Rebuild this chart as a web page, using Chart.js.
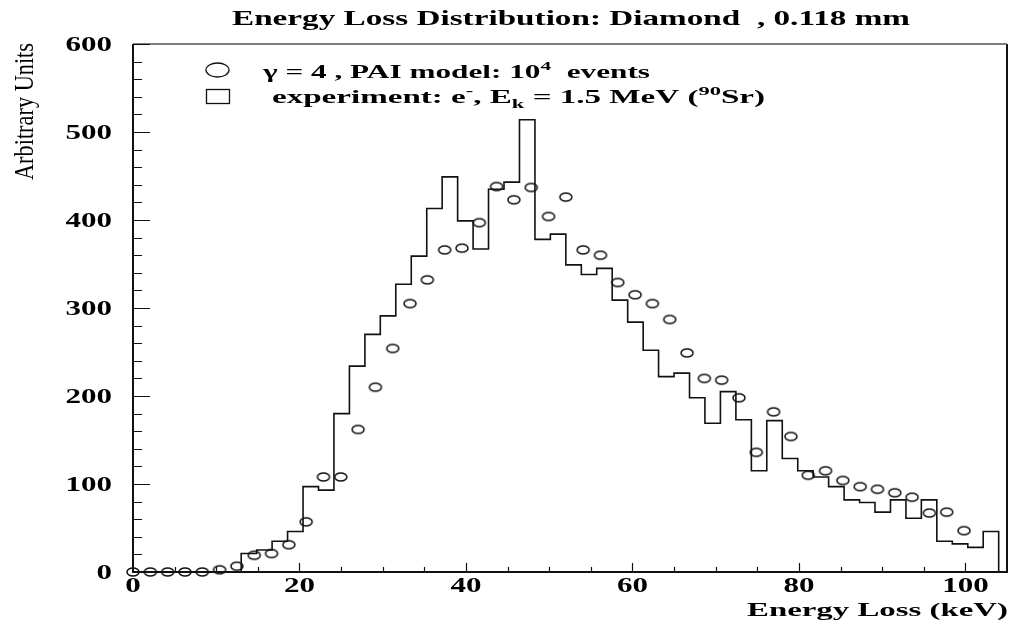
<!DOCTYPE html>
<html>
<head>
<meta charset="utf-8">
<script src="https://cdn.jsdelivr.net/npm/chart.js@4.4.0/dist/chart.umd.min.js"></script>
<style>
  html, body { margin: 0; padding: 0; background: #fff; }
  #wrap { width: 1013px; height: 625px; }
</style>
</head>
<body>
<div id="wrap"><canvas id="lossCanvas" width="1013" height="625"></canvas></div>
<script>
// experiment histogram: lower bin edges (keV), last entry = upper edge of last bin
const binEdges = [
  0, 1.86, 3.71, 5.57, 7.43, 9.29, 11.14, 13.0, 14.86, 16.71,
  18.57, 20.43, 22.29, 24.14, 26.0, 27.86, 29.71, 31.57, 33.43, 35.29,
  37.14, 39.0, 40.86, 42.71, 44.57, 46.43, 48.29, 50.14, 52.0, 53.86,
  55.71, 57.57, 59.43, 61.29, 63.14, 65.0, 66.86, 68.71, 70.57, 72.43,
  74.29, 76.14, 78.0, 79.86, 81.71, 83.57, 85.43, 87.29, 89.14, 91.0,
  92.86, 94.71, 96.57, 98.43, 100.29, 102.14, 104.0
];
// experiment counts per bin (e-, 1.5 MeV, 90Sr)
const expCounts = [
  0, 0, 0, 0, 0, 0, 0, 21, 25, 35,
  46, 97, 93, 180, 234, 270, 291, 327, 359, 413,
  449, 399, 367, 435, 443, 514, 378, 384, 349, 338,
  345, 309, 284, 252, 222, 226, 198, 169, 205, 173,
  115, 172, 129, 115, 108, 97, 82, 79, 68, 82,
  61, 82, 35, 32, 28, 46
];
// PAI model points (gamma = 4)
const simEnergy = [
  0, 2.08, 4.16, 6.24, 8.32, 10.4, 12.48, 14.56, 16.64, 18.72,
  20.8, 22.88, 24.96, 27.04, 29.12, 31.2, 33.28, 35.36, 37.44, 39.52,
  41.6, 43.68, 45.76, 47.84, 49.92, 52.0, 54.08, 56.16, 58.24, 60.32,
  62.4, 64.48, 66.56, 68.64, 70.72, 72.8, 74.88, 76.96, 79.04, 81.12,
  83.2, 85.28, 87.36, 89.44, 91.52, 93.6, 95.68, 97.76, 99.84
];
const simCounts = [
  0, 0, 0, 0, 0, 2.5, 6.6, 19, 21, 31,
  57, 108, 108, 162, 210, 254, 305, 332, 366, 368,
  397, 438, 423, 437, 404, 426, 366, 360, 329, 315,
  305, 287, 249, 220, 218, 198, 136, 182, 154, 110,
  115, 104, 97, 94, 90, 85, 67, 68, 47
];
const xTicks = [0, 20, 40, 60, 80, 100];
const yTicks = [0, 100, 200, 300, 400, 500, 600];

const SERIF = '"Liberation Serif", "Times New Roman", serif';
const INK = '#111';

// open oval marker (the picture is stretched sideways)
function makeOval(w, h) {
  const c = document.createElement('canvas');
  c.width = w + 4;
  c.height = h + 4;
  const g = c.getContext('2d');
  g.strokeStyle = INK;
  g.lineWidth = 1.5;
  g.beginPath();
  g.ellipse(c.width / 2, c.height / 2, w / 2, h / 2, 0, 0, Math.PI * 2);
  g.stroke();
  return c;
}

// draw text made of parts (plain / sup / sub), squeezed or stretched to a width
function richText(ctx, parts, left, baseline, size, weight, width) {
  ctx.save();
  let natural = 0;
  parts.forEach(p => {
    const s = p.s ? size * 0.68 : size;
    ctx.font = `${weight} ${s}px ${SERIF}`;
    p.w = ctx.measureText(p.t).width;
    natural += p.w;
  });
  ctx.translate(left, baseline);
  ctx.scale(width / natural, 1);
  let cx = 0;
  parts.forEach(p => {
    const s = p.s ? size * 0.68 : size;
    ctx.font = `${weight} ${s}px ${SERIF}`;
    const dy = p.s === 'sup' ? -size * 0.42 : p.s === 'sub' ? size * 0.28 : 0;
    ctx.fillText(p.t, cx, dy);
    cx += p.w;
  });
  ctx.restore();
}

// tick label with fixed sideways stretch
function tickLabel(ctx, text, x, baseline, align) {
  const sx = 1.55;
  ctx.save();
  ctx.font = `bold 20px ${SERIF}`;
  const w = ctx.measureText(text).width * sx;
  const left = align === 'right' ? x - w : x - w / 2;
  ctx.translate(left, baseline);
  ctx.scale(sx, 1);
  ctx.fillText(text, 0, 0);
  ctx.restore();
}

const frameAndText = {
  id: 'frameAndText',
  afterDatasetsDraw(chart) {
    const { ctx, chartArea: a, scales: { x, y } } = chart;
    ctx.save();
    ctx.fillStyle = '#000';
    ctx.textBaseline = 'alphabetic';

    // frame
    ctx.strokeStyle = INK;
    ctx.lineWidth = 2;
    ctx.beginPath();
    ctx.moveTo(a.left, a.top);
    ctx.lineTo(a.left, a.bottom);
    ctx.lineTo(a.right, a.bottom);
    ctx.lineTo(a.right, a.top);
    ctx.stroke();
    ctx.strokeStyle = '#555';
    ctx.lineWidth = 1.5;
    ctx.beginPath();
    ctx.moveTo(a.left, a.top);
    ctx.lineTo(a.right, a.top);
    ctx.stroke();

    // ticks, drawn inwards
    ctx.strokeStyle = INK;
    ctx.lineWidth = 1.2;
    ctx.beginPath();
    for (let v = 0; v <= 600; v += 20) {
      const py = Math.round(y.getPixelForValue(v)) + 0.5;
      const len = v % 100 === 0 ? 17 : 9;
      ctx.moveTo(a.left, py);
      ctx.lineTo(a.left + len, py);
    }
    for (let v = 5; v <= 104; v += 5) {
      const px = Math.round(x.getPixelForValue(v)) + 0.5;
      const len = v % 20 === 0 ? 9 : 5;
      ctx.moveTo(px, a.bottom);
      ctx.lineTo(px, a.bottom - len);
    }
    ctx.stroke();

    // tick labels
    yTicks.forEach(v => tickLabel(ctx, String(v), 112, y.getPixelForValue(v) + 7, 'right'));
    xTicks.forEach(v => tickLabel(ctx, String(v), x.getPixelForValue(v), 592, 'center'));

    // titles
    richText(ctx, [{ t: 'Energy Loss Distribution: Diamond  , 0.118 mm' }], 232, 25, 21, 'bold', 678);
    richText(ctx, [{ t: 'Energy Loss (keV)' }], 747, 616, 19, 'bold', 261);

    ctx.save();
    ctx.translate(33, 180);
    ctx.rotate(-Math.PI / 2);
    ctx.scale(1, 1.25);
    ctx.font = `22px ${SERIF}`;
    const lw = ctx.measureText('Arbitrary Units').width;
    ctx.scale(137 / lw, 1);
    ctx.fillText('Arbitrary Units', 0, 0);
    ctx.restore();

    // legend
    ctx.strokeStyle = INK;
    ctx.lineWidth = 1.3;
    ctx.beginPath();
    ctx.ellipse(217.5, 70, 11.5, 7, 0, 0, Math.PI * 2);
    ctx.stroke();
    ctx.strokeRect(206.5, 89.5, 23, 14);

    richText(ctx, [
      { t: '\u03b3 = 4 , PAI model: 10' }, { t: '4', s: 'sup' }, { t: '  events' }
    ], 263, 78, 19, 'bold', 387);
    richText(ctx, [
      { t: 'experiment: e' }, { t: '-', s: 'sup' }, { t: ', E' }, { t: 'k', s: 'sub' },
      { t: ' = 1.5 MeV (' }, { t: '90', s: 'sup' }, { t: 'Sr)' }
    ], 272, 103, 19, 'bold', 493);

    ctx.restore();
  }
};

const histPoints = expCounts.map((v, i) => ({ x: binEdges[i], y: v }));
histPoints.push({ x: binEdges[binEdges.length - 1], y: 0 });
const simPoints = simEnergy.map((e, i) => ({ x: e, y: simCounts[i] }));

new Chart(document.getElementById('lossCanvas').getContext('2d'), {
  type: 'scatter',
  data: {
    datasets: [
      {
        label: 'experiment',
        type: 'line',
        data: histPoints,
        stepped: true,
        showLine: true,
        borderColor: INK,
        borderWidth: 1.6,
        pointRadius: 0,
        fill: false,
        clip: false,
      },
      {
        label: 'PAI model',
        data: simPoints,
        pointStyle: makeOval(12, 8),
        pointRadius: 5,
        showLine: false,
        clip: false,
      },
    ],
  },
  options: {
    responsive: false,
    animation: false,
    devicePixelRatio: 1,
    layout: { padding: { left: 133, right: 3, top: 44, bottom: 53 } },
    plugins: { legend: { display: false }, tooltip: { enabled: false } },
    scales: {
      x: { type: 'linear', min: 0, max: 105, display: false },
      y: { type: 'linear', min: 0, max: 600, display: false },
    },
  },
  plugins: [frameAndText],
});
</script>
</body>
</html>
